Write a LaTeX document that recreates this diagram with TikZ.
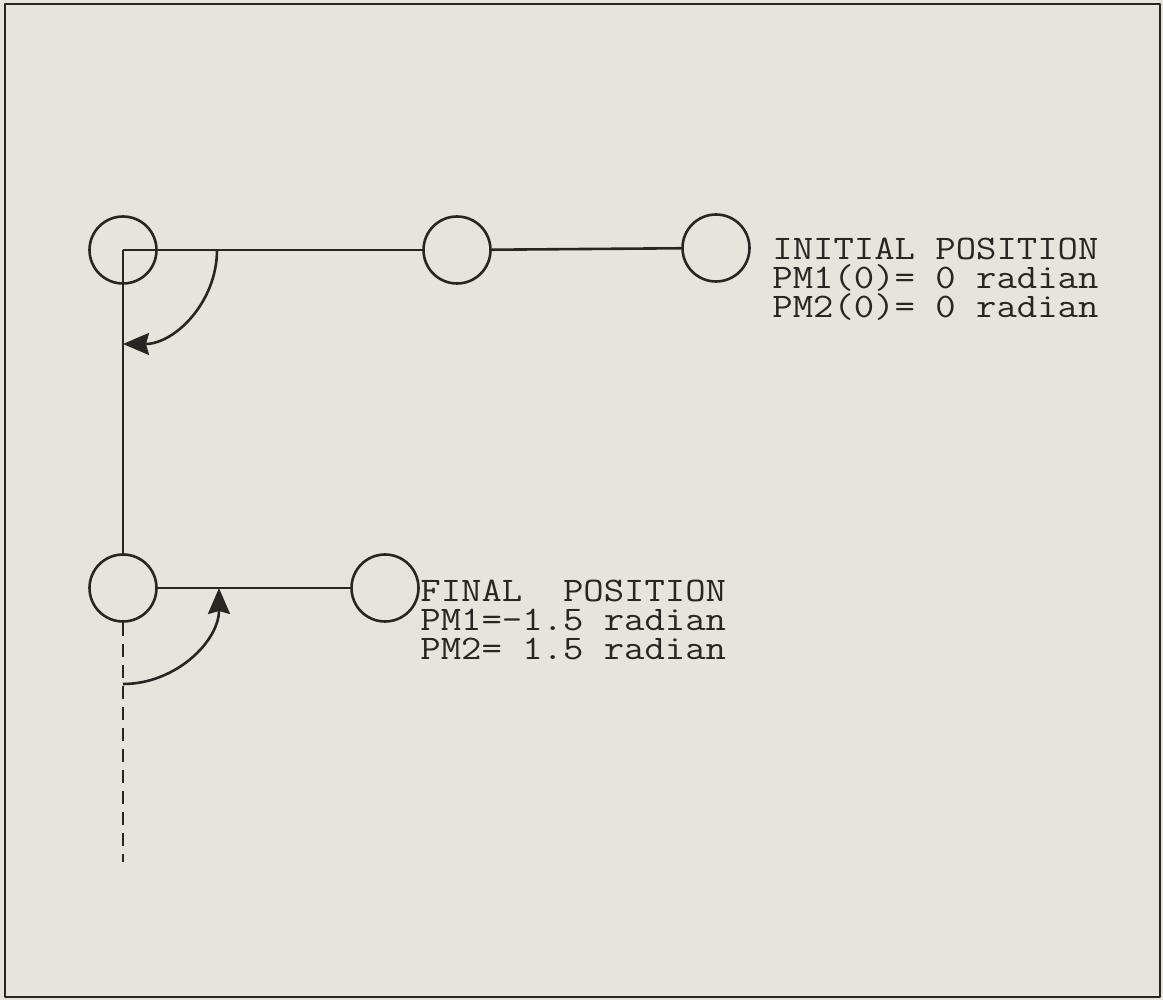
\documentclass[tikz,border=0pt]{standalone}
\usepackage{fontspec}
\usepackage{tikz}
\usetikzlibrary{arrows.meta}
\usetikzlibrary{shapes}

\newfontfamily\platefont{Latin Modern Mono}[FakeStretch=1.15]
\definecolor{paper}{RGB}{229,229,219}
\definecolor{ink}{RGB}{40,38,35}

\begin{document}
\begin{tikzpicture}[>={Stealth[length=13bp,width=11bp,inset=1.5bp]},line join=bevel,
  joint/.style={draw=ink,circle,minimum size=33.5bp,inner sep=0pt,line width=1.3bp},
  label/.style={anchor=base west,inner sep=0pt,align=left,text=ink,
    font=\fontsize{17.2bp}{14.5bp}\selectfont\platefont},
  link/.style={ink,line width=1.3bp}]
%%
\useasboundingbox (0bp,0bp) rectangle (581.5bp,500bp);
\fill [paper] (0bp,0bp) rectangle (581.5bp,500bp);
\draw [ink,line width=1.4bp] (2.5bp,1.5bp) rectangle (580bp,498bp);
%% initial position
\node (joint_a0) at (61.5bp,375bp) [joint] {};
  \node (joint_b0) at (228.5bp,375bp) [joint] {};
  \node (tip_0) at (358bp,376bp) [joint] {};
  \node (text_0) at (386bp,341bp) [label] {INITIAL POSITION\\PM1(0)= 0 radian\\PM2(0)= 0 radian};
%% final position
\node (joint_a1) at (61.5bp,206bp) [joint] {};
  \node (tip_1) at (192.5bp,206bp) [joint] {};
  \node (text_1) at (210bp,170bp) [label] {FINAL\ \ POSITION\\PM1=-1.5 radian\\PM2= 1.5 radian};
  \coordinate (base_end) at (61.5bp,69bp);
%% links
\draw [link] (joint_a0.center) -- (joint_b0);
  \draw [link] (joint_b0) -- (tip_0);
  \draw [link] (joint_a0.center) -- (joint_a1);
  \draw [link] (joint_a1) -- (tip_1);
  \draw [link,dash pattern=on 6.5bp off 4bp] (joint_a1) -- (base_end);
%% rotations
\draw [link,->] ([xshift=47bp]joint_a0.center) arc [start angle=0,end angle=-90,radius=47bp];
  \draw [link,->] ([yshift=-48bp]joint_a1.center) arc [start angle=-90,end angle=0,radius=48bp];
%
\end{tikzpicture}
\end{document}
